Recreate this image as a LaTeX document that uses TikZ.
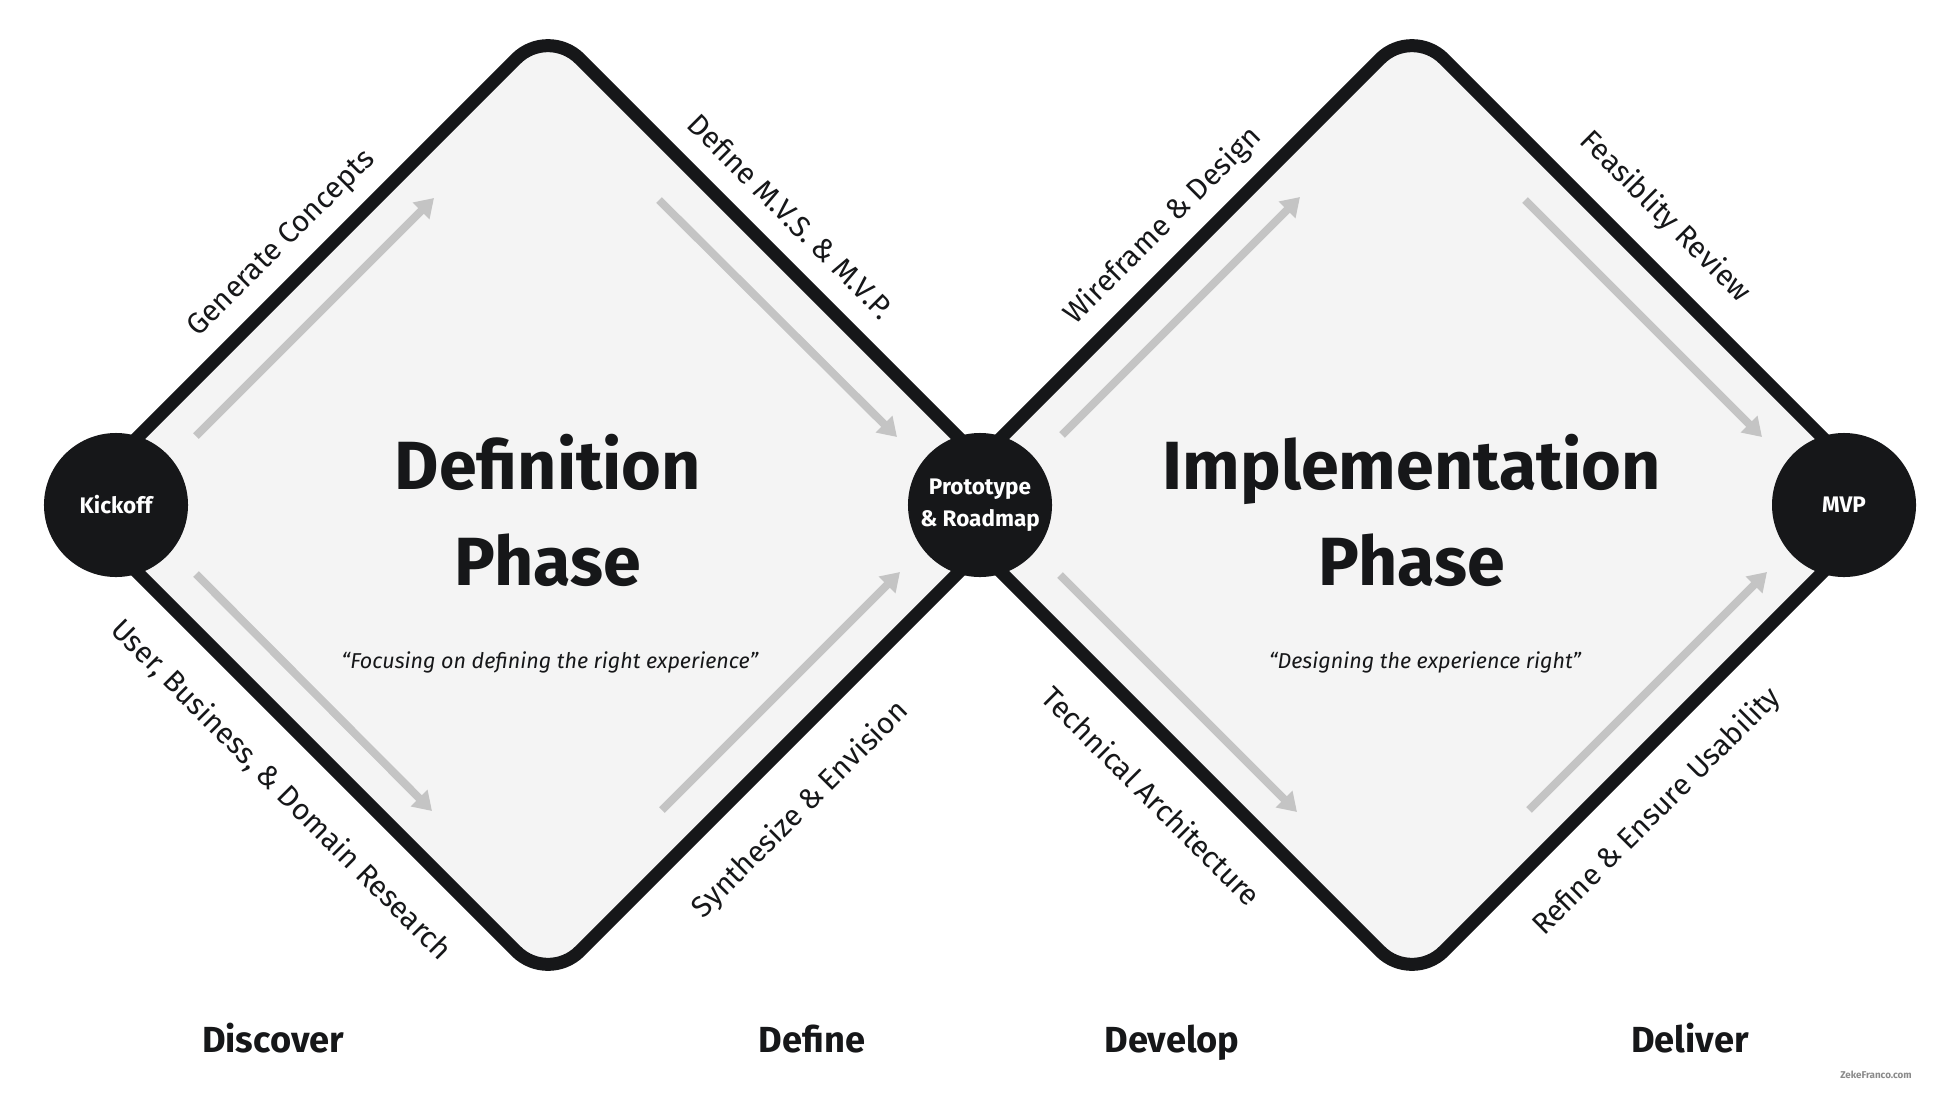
\documentclass[tikz,border=0pt]{standalone}
\usepackage{fontspec}
\setmainfont{Fira Sans}
\usepackage{xcolor}
\usetikzlibrary{arrows.meta}

\definecolor{ink}{RGB}{22,23,25}
\definecolor{paper}{RGB}{244,244,244}
\definecolor{hint}{RGB}{196,196,196}
\definecolor{wmgray}{RGB}{138,138,138}

\begin{document}
\begin{tikzpicture}[
  x=0.025cm, y=-0.025cm,
  phasebox/.style={draw=ink, line width=9.25pt, fill=paper, rounded corners=1.125cm},
  hub/.style={circle, fill=ink, minimum size=3.6cm, inner sep=0pt, text=white,
              align=center, font=\fontsize{16}{22.5}\selectfont\bfseries},
  flow/.style={-{Triangle[length=13pt, width=16pt]}, draw=hint, line width=5.7pt},
  sidelab/.style={text=ink, font=\fontsize{21}{25}\selectfont},
  bigtitle/.style={text=ink, anchor=base, font=\fontsize{48.5}{58}\selectfont\bfseries},
  motto/.style={text=ink, anchor=base, font=\fontsize{15.3}{18}\selectfont\itshape},
  stagelab/.style={text=ink, anchor=base, font=\fontsize{25.8}{30}\selectfont\bfseries}
]

\useasboundingbox (0,0) rectangle (1960,1092);
\fill[white] (0,0) rectangle (1960,1092);

% --- the two diamonds ---
\draw[phasebox] (70,505) -- (548,27) -- (1026,505) -- (548,983) -- cycle;
\draw[phasebox] (934,505) -- (1412,27) -- (1890,505) -- (1412,983) -- cycle;

% --- hubs ---
\node[hub] (kickoff) at (116,505)  {Kickoff};
\node[hub] (proto)   at (980,505)  {Prototype\\\& Roadmap};
\node[hub] (mvp)     at (1844,505) {MVP};

% --- grey flow arrows ---
\draw[flow] (196,436) -- (434,198);
\draw[flow] (196,574) -- (432,811);
\draw[flow] (659,200) -- (897,437);
\draw[flow] (662,810) -- (900,572);
\draw[flow] (1062,435) -- (1300,197);
\draw[flow] (1060,575) -- (1297,812);
\draw[flow] (1525,200) -- (1762,437);
\draw[flow] (1529,810) -- (1767,572);

% --- edge labels ---
\node[sidelab, rotate=45]  (gen)   at (282,244)  {Generate Concepts};
\node[sidelab, rotate=-45] (mvs)   at (791,216)  {Define M.V.S. \& M.V.P.};
\node[sidelab, rotate=-45] (ubd)   at (281,790)  {User, Business, \& Domain Research};
\node[sidelab, rotate=45]  (synth) at (801,810)  {Synthesize \& Envision};
\node[sidelab, rotate=45]  (wire)  at (1163,226) {Wireframe \& Design};
\node[sidelab, rotate=-45] (feas)  at (1665,217) {Feasiblity Review};
\node[sidelab, rotate=-45] (tech)  at (1152,796) {Technical Architecture};
\node[sidelab, rotate=45]  (refine) at (1657,812) {Refine \& Ensure Usability};

% --- phase titles ---
\node[bigtitle] (defA) at (548,489)  {Definition};
\node[bigtitle] (defB) at (548,585)  {Phase};
\node[motto]    (defQ) at (550,668)  {“Focusing on defining the right experience”};
\node[bigtitle] (impA) at (1412,489) {Implementation};
\node[bigtitle] (impB) at (1412,585) {Phase};
\node[motto]    (impQ) at (1425,668) {“Designing the experience right”};

% --- stages along the bottom ---
\node[stagelab] (discover) at (273,1052)  {Discover};
\node[stagelab] (define)   at (812,1052)  {Define};
\node[stagelab] (develop)  at (1172,1052) {Develop};
\node[stagelab] (deliver)  at (1690,1052) {Deliver};

\node[text=wmgray, font=\fontsize{7}{8}\selectfont\bfseries] (wm) at (1876,1075) {ZekeFranco.com};

\end{tikzpicture}
\end{document}
